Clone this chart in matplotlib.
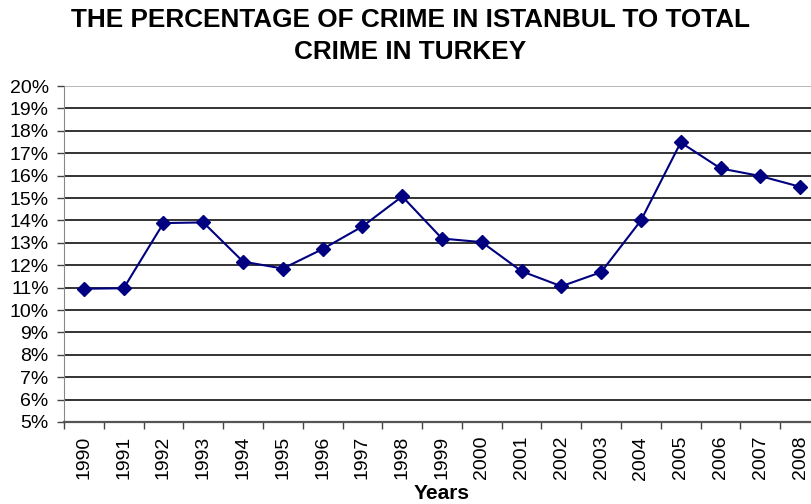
import numpy as np
import matplotlib
matplotlib.use('Agg')
import matplotlib.pyplot as plt
from matplotlib.ticker import FixedLocator

years = ['1990', '1991', '1992', '1993', '1994', '1995', '1996', '1997', '1998', '1999',
         '2000', '2001', '2002', '2003', '2004', '2005', '2006', '2007', '2008']
share = [10.95, 10.97, 13.88, 13.91, 12.16, 11.85, 12.72, 13.73, 15.07, 13.19,
         13.03, 11.73, 11.06, 11.69, 14.0, 17.48, 16.32, 15.98, 15.5]
y_ticks = list(range(5, 21))

plt.rcParams['font.family'] = ['Liberation Sans', 'DejaVu Sans']

fig = plt.figure(figsize=(8.12, 5.04), dpi=100)
# plot area runs past the right edge, like the cropped original
ax = fig.add_axes([64/812, 1 - 422/504, 756/812, 336/504])

x = np.arange(len(years))
ax.plot(x, share, color='#000080', lw=1.5, marker='D', ms=7.5,
        markerfacecolor='#000080', markeredgecolor='#000080', zorder=3)

ax.set_xlim(-0.5, len(years) - 0.5)
ax.set_ylim(5, 20)
ax.set_yticks(y_ticks)
ax.set_yticklabels([f'{v}%' for v in y_ticks], fontsize=14)
for v in y_ticks[1:-1]:
    ax.axhline(v, color='#333333', lw=1.4, zorder=1)
ax.axhline(20, color='#aaaaaa', lw=1.2, zorder=1)

ax.set_xticks(x)
ax.set_xticklabels(years, rotation=90, fontsize=14)
ax.xaxis.set_minor_locator(FixedLocator(np.arange(-0.5, len(years), 1.0)))
ax.tick_params(axis='x', which='major', length=0, pad=10)
ax.tick_params(axis='x', which='minor', length=5, width=1, color='#444444', direction='out')
ax.tick_params(axis='y', length=5, width=1, color='#444444', pad=6)

for s in ['top', 'right']:
    ax.spines[s].set_visible(False)
ax.spines['left'].set_color('#888888')
ax.spines['bottom'].set_color('#555555')
ax.spines['bottom'].set_linewidth(1.6)

ax.set_xlabel('Years', fontsize=15, fontweight='bold',
              family=['Liberation Sans Narrow', 'Liberation Sans'], labelpad=3)

fig.text(0.505, 0.985, 'THE PERCENTAGE OF CRIME IN ISTANBUL TO TOTAL\nCRIME IN TURKEY',
         ha='center', va='top', fontsize=18.8, fontweight='bold', linespacing=1.45)

fig.savefig('out.png', dpi=100)
